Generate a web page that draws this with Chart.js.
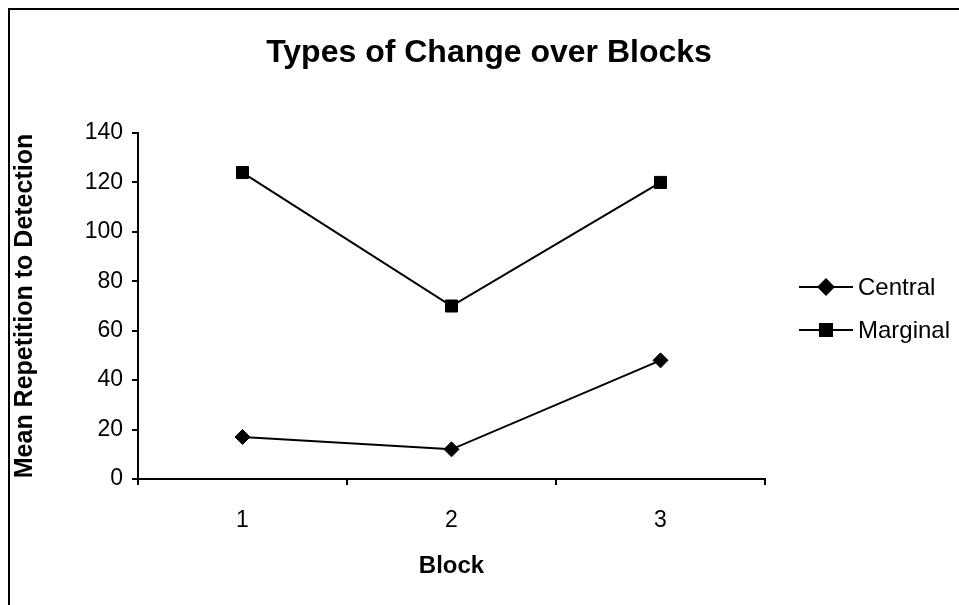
<!DOCTYPE html>
<html>
<head>
<meta charset="utf-8">
<script src="https://cdn.jsdelivr.net/npm/chart.js@4.4.1/dist/chart.umd.min.js"></script>
<style>
  html, body { margin: 0; padding: 0; background: #fff; overflow: hidden; }
  #wrap { position: relative; width: 959px; height: 605px; }
  #frame {
    position: absolute; left: 8px; top: 8px; width: 1000px; height: 700px;
    border-left: 2px solid #000; border-top: 2px solid #000; box-sizing: border-box;
  }
  canvas { position: absolute; left: 0; top: 0; }
</style>
</head>
<body>
<div id="wrap">
  <div id="frame"></div>
  <canvas id="chart" width="959" height="605"></canvas>
</div>
<script>
const chartTitle = 'Types of Change over Blocks';
const blocks = ['1', '2', '3'];
const centralValues = [17, 12, 48];
const marginalValues = [124, 70, 120];
const yTicks = [0, 20, 40, 60, 80, 100, 120, 140];

const FONT = '"Liberation Sans", Arial, sans-serif';

// Title and line-with-marker legend, painted on the canvas
const decorations = {
  id: 'decorations',
  afterDraw(chart) {
    const ctx = chart.ctx;
    ctx.save();
    ctx.fillStyle = '#000';
    ctx.textAlign = 'center';
    ctx.textBaseline = 'middle';
    ctx.font = 'bold 32px ' + FONT;
    ctx.fillText(chartTitle, 489, 53);

    const rows = [287, 330];
    chart.data.datasets.forEach((ds, i) => {
      const y = rows[i];
      ctx.strokeStyle = ds.borderColor;
      ctx.lineWidth = ds.borderWidth;
      ctx.beginPath();
      ctx.moveTo(799, y);
      ctx.lineTo(853, y);
      ctx.stroke();
      ctx.fillStyle = '#000';
      Chart.helpers.drawPoint(ctx, {
        pointStyle: ds.pointStyle, radius: ds.pointRadius, rotation: 0, borderWidth: 1
      }, 826, y);
      ctx.fill();
      ctx.fillStyle = '#000';
      ctx.textAlign = 'left';
      ctx.font = '24px ' + FONT;
      ctx.fillText(ds.label, 858, y + 1);
    });
    ctx.restore();
  }
};

new Chart(document.getElementById('chart'), {
  type: 'line',
  data: {
    labels: blocks,
    datasets: [
      {
        label: 'Central', data: centralValues,
        borderColor: '#000', backgroundColor: '#000', borderWidth: 2,
        pointStyle: 'rectRot', pointRadius: 7.5, pointBorderWidth: 1,
        tension: 0
      },
      {
        label: 'Marginal', data: marginalValues,
        borderColor: '#000', backgroundColor: '#000', borderWidth: 2,
        pointStyle: 'rect', pointRadius: 8.5, pointBorderWidth: 1,
        tension: 0
      }
    ]
  },
  options: {
    responsive: false,
    animation: false,
    layout: { padding: { left: 0, top: 133, right: 194, bottom: 0 } },
    plugins: { legend: { display: false }, title: { display: false }, tooltip: { enabled: false } },
    scales: {
      x: {
        type: 'category',
        offset: true,
        grid: { offset: true, drawOnChartArea: false, drawTicks: true, tickLength: 6, color: '#000', lineWidth: 2 },
        border: { display: true, color: '#000', width: 2 },
        ticks: { color: '#000', font: { family: FONT, size: 23 }, padding: 22, maxRotation: 0 },
        title: { display: true, text: 'Block', color: '#000', font: { family: FONT, size: 24, weight: 'bold' }, padding: { top: 4, bottom: 24 } },
        afterFit(scale) { scale.height = 126; }
      },
      y: {
        min: 0, max: 140,
        afterBuildTicks(scale) { scale.ticks = yTicks.map(v => ({ value: v })); },
        grid: { drawOnChartArea: false, drawTicks: true, tickLength: 6, color: '#000', lineWidth: 2 },
        border: { display: true, color: '#000', width: 2 },
        ticks: { color: '#000', font: { family: FONT, size: 23 }, padding: 9 },
        title: { display: true, text: 'Mean Repetition to Detection', color: '#000', font: { family: FONT, size: 25, weight: 'bold' }, padding: { top: 10, bottom: 4 } },
        afterFit(scale) { scale.width = 138; }
      }
    }
  },
  plugins: [decorations]
});
</script>
</body>
</html>
